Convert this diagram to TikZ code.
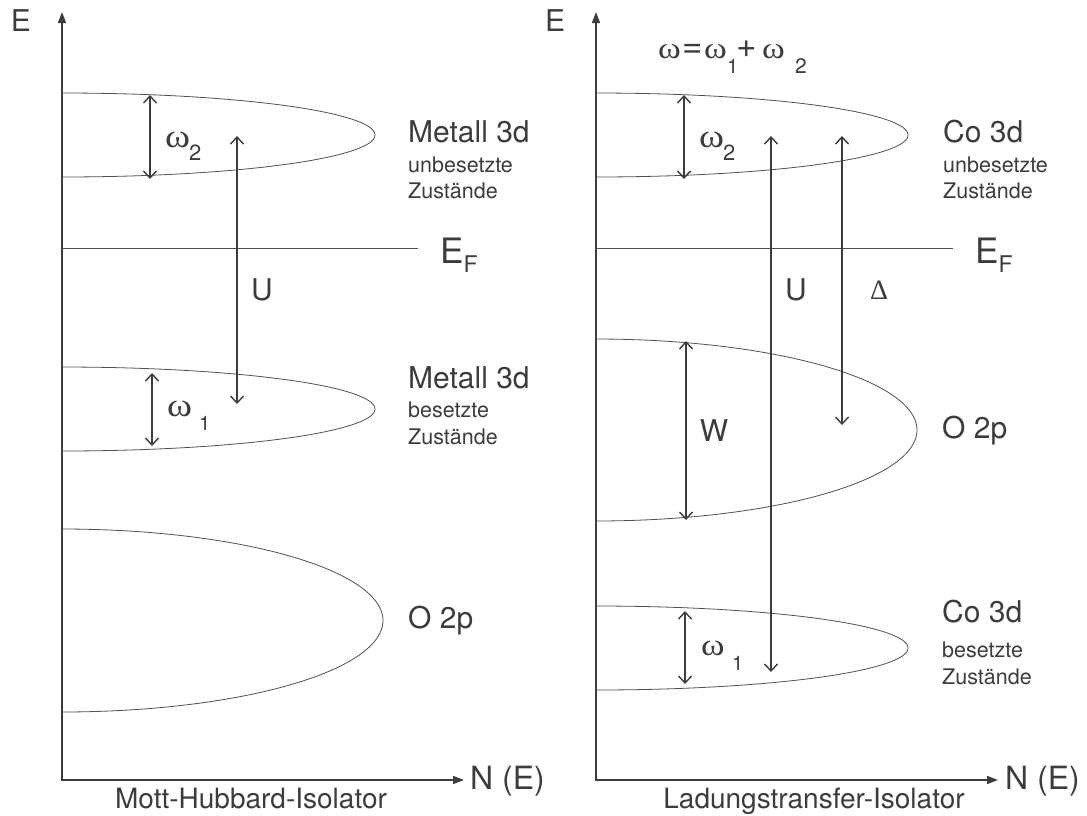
\documentclass[tikz,border=0pt]{standalone}
\usepackage{fontspec}
\usepackage{graphicx}
\setmainfont{TeX Gyre Heros}
\newfontfamily\grk{Liberation Serif}
\newfontfamily\hel{TeX Gyre Heros}
\usetikzlibrary{arrows.meta}
\definecolor{ink}{HTML}{3C3C3C}
\definecolor{bandc}{HTML}{505050}
\newcommand{\fs}[1]{\fontsize{#1}{#1}\selectfont}
\newcommand{\om}[1]{\scalebox{1.15}[1]{\grk\fs{#1}ω}}
\newcommand{\lowsub}[3]{\raisebox{-#2}{\hel\fs{#3}#1}}
\newcommand{\bx}[2]{\makebox[#1][l]{#2}}
\begin{document}
\begin{tikzpicture}[x=1pt,y=-1pt,
  band/.style={draw=bandc, line width=0.8pt},
  axes/.style={draw=ink, line width=1.5pt, {Triangle[length=11pt,width=8pt]}-{Triangle[length=11pt,width=8pt]}},
  dim/.style={draw=ink, line width=1.6pt, {Straight Barb[length=7pt,width=13pt,line width=1.4pt]}-{Straight Barb[length=7pt,width=13pt,line width=1.4pt]}},
  lbl/.style={text=ink, inner sep=0pt, font=\fs{30}},
  small/.style={text=ink, inner sep=0pt, font=\fs{21.5}},
  big/.style={text=ink, inner sep=0pt, font=\fs{35}}]
\useasboundingbox (0,0) rectangle (1087,815);

% ---------------- left panel: Mott-Hubbard ----------------
\coordinate (yt1) at (62,12);
\coordinate (xt1) at (464,780);
\draw[axes] (yt1) |- (xt1);
\node[lbl, anchor=base] (E1) at (21,31) {E};
\node[lbl, font=\fs{32}, anchor=west] (N1) at (470,781) {N (E)};
\node[lbl, font=\fs{28}, anchor=base] (T1) at (251,808) {Mott-Hubbard-Isolator};

% bands
\draw[band] plot[domain=-90:90, samples=120] ({62+313*cos(\x)}, {135+42*sin(\x)});
\draw[band] plot[domain=-90:90, samples=120] ({62+313*cos(\x)}, {409+42*sin(\x)});
\draw[band] plot[domain=-90:90, samples=120] ({62+321*cos(\x)}, {620.5+91.5*sin(\x)});

% Fermi level
\coordinate (ef1a) at (62,248);
\coordinate (ef1b) at (418,248);
\draw[band] (ef1a) -- (ef1b);
\node[big, anchor=base west] (EF1) at (440,263) {E\lowsub{F}{9pt}{23}};

% arrows
\coordinate (w2a) at (150,95);  \coordinate (w2b) at (150,179);
\draw[dim] (w2a) -- (w2b);
\node[lbl, anchor=base west] (W2L) at (165,147) {\bx{24pt}{\om{33}}\lowsub{2}{13pt}{22}};
\coordinate (u1a) at (237,136); \coordinate (u1b) at (237,404);
\draw[dim] (u1a) -- (u1b);
\node[lbl] (U1) at (262,290) {U};
\coordinate (w1a) at (152,373); \coordinate (w1b) at (152,446);
\draw[dim] (w1a) -- (w1b);
\node[lbl, anchor=base west] (W1L) at (167,416) {\bx{32pt}{\om{33}}\lowsub{1}{14pt}{20}};

% labels
\node[lbl, anchor=base west] (M3a) at (408,142) {Metall 3d};
\node[small, anchor=base west] (M3b) at (408,172) {unbesetzte};
\node[small, anchor=base west] (M3c) at (408,198) {Zustände};
\node[lbl, anchor=base west] (M3d) at (408,388) {Metall 3d};
\node[small, anchor=base west] (M3e) at (408,417) {besetzte};
\node[small, anchor=base west] (M3f) at (408,444) {Zustände};
\node[lbl, anchor=west] (O1) at (408,621) {O 2p};

% ---------------- right panel: charge transfer ----------------
\coordinate (yt2) at (596,12);
\coordinate (xt2) at (998,780);
\draw[axes] (yt2) |- (xt2);
\node[lbl, anchor=base] (E2) at (555,31) {E};
\node[lbl, font=\fs{32}, anchor=west] (N2) at (1005,781) {N (E)};
\node[lbl, font=\fs{28}, anchor=base] (T2) at (814,808) {Ladungstransfer-Isolator};
\node[lbl, anchor=base west] (EQ) at (658,58)
  {\bx{24pt}{\om{30}}\bx{22pt}{\raisebox{1pt}{\fs{35}=}}\bx{23pt}{\om{30}}\bx{9pt}{\lowsub{1}{15pt}{20}}\bx{26pt}{\raisebox{1pt}{\fs{35}+}}\bx{33pt}{\om{30}}\lowsub{2}{15pt}{21}};

% bands
\draw[band] plot[domain=-90:90, samples=120] ({596+312*cos(\x)}, {135+42*sin(\x)});
\draw[band] plot[domain=-90:90, samples=120] ({596+321*cos(\x)}, {430+91*sin(\x)});
\draw[band] plot[domain=-90:90, samples=120] ({596+312*cos(\x)}, {648+42*sin(\x)});

% Fermi level
\coordinate (ef2a) at (596,248);
\coordinate (ef2b) at (953,248);
\draw[band] (ef2a) -- (ef2b);
\node[big, anchor=base west] (EF2) at (975,263) {E\lowsub{F}{9pt}{23}};

% arrows
\coordinate (v2a) at (684,95);  \coordinate (v2b) at (684,179);
\draw[dim] (v2a) -- (v2b);
\node[lbl, anchor=base west] (W2R) at (699,147) {\bx{24pt}{\om{33}}\lowsub{2}{13pt}{22}};
\coordinate (u2a) at (771,136); \coordinate (u2b) at (771,672);
\draw[dim] (u2a) -- (u2b);
\node[lbl] (U2) at (796,290) {U};
\coordinate (d2a) at (842,136); \coordinate (d2b) at (842,425);
\draw[dim] (d2a) -- (d2b);
\node[lbl, font={\grk\fs{28}}] (DL) at (879,290) {Δ};
\coordinate (wwa) at (686,341); \coordinate (wwb) at (686,520);
\draw[dim] (wwa) -- (wwb);
\node[lbl] (WL) at (714,431) {W};
\coordinate (v1a) at (685,611); \coordinate (v1b) at (685,684);
\draw[dim] (v1a) -- (v1b);
\node[lbl, anchor=base west] (W1R) at (701,655) {\bx{31pt}{\om{31}}\lowsub{1}{15pt}{20}};

% labels
\node[lbl, anchor=base west] (C3a) at (943,142) {Co 3d};
\node[small, anchor=base west] (C3b) at (943,172) {unbesetzte};
\node[small, anchor=base west] (C3c) at (943,198) {Zustände};
\node[lbl, anchor=west] (O2) at (942,431) {O 2p};
\node[lbl, anchor=base west] (C3d) at (942,622) {Co 3d};
\node[small, anchor=base west] (C3e) at (942,657) {besetzte};
\node[small, anchor=base west] (C3f) at (942,684) {Zustände};
\end{tikzpicture}
\end{document}
